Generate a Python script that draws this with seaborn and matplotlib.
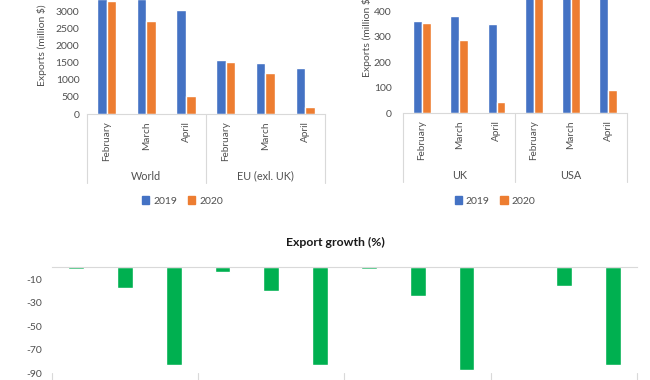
import pandas as pd
import matplotlib.pyplot as plt
import matplotlib.patches as mpatches
import seaborn as sns

months = ['February', 'March', 'April']
years = ['2019', '2020']

# top-left chart (million $)
left_regions = ['World', 'EU (exl. UK)']
world_2019 = [3365, 3360, 3040]
world_2020 = [3313, 2736, 518]
eu_2019 = [1593, 1505, 1339]
eu_2020 = [1524, 1202, 215]

# top-right chart (million $)
right_regions = ['UK', 'USA']
uk_2019 = [361, 382, 349]
uk_2020 = [354, 288, 44]
usa_2019 = [510, 570, 555]
usa_2020 = [511, 477, 91]

# bottom chart: export growth (%)
growth_regions = ['World', 'EU (exl. UK)', 'UK', 'USA']
growth = [-1.5, -18, -83, -3.8, -20, -83.5, -1.8, -24.5, -87.5, 0.2, -16.3, -83.5]

blue = '#4472C4'
orange = '#ED7D31'
green = '#00B050'
grey = '#505050'
line_c = '#D9D9D9'

sns.set_style('white')
plt.rcParams['font.family'] = ['Lato', 'DejaVu Sans']
plt.rcParams['font.size'] = 7.5

W, H = 650, 380
fig = plt.figure(figsize=(6.5, 3.8), dpi=100)


def fx(px):
    return px / W


def fy(py):
    return 1 - py / H


def make_df(regions, a2019, a2020):
    rows = []
    for i, reg in enumerate(regions):
        for j, m in enumerate(months):
            rows.append({'key': reg + '|' + m, 'year': '2019', 'val': a2019[i][j]})
            rows.append({'key': reg + '|' + m, 'year': '2020', 'val': a2020[i][j]})
    return pd.DataFrame(rows)


def top_chart(rect, df, ylim, ticks, regions, ylab_xy, legend_x, pad):
    ax = fig.add_axes(rect)
    sns.barplot(data=df, x='key', y='val', hue='year', palette={'2019': blue, '2020': orange},
                width=0.48, ax=ax, saturation=1)
    ax.get_legend().remove()
    ax.set_xlim(-0.5, 5.5)
    ax.set_ylim(0, ylim)
    ax.set_yticks(ticks)
    ax.set_yticklabels([str(t) for t in ticks], color=grey)
    ax.tick_params(axis='y', length=0, pad=pad, labelsize=7.5)
    ax.set_xticks([])
    ax.set_xlabel('')
    ax.set_ylabel('')
    for s in ['top', 'right', 'left']:
        ax.spines[s].set_visible(False)
    ax.spines['bottom'].set_color(line_c)
    ax.spines['bottom'].set_linewidth(0.8)
    tr = ax.get_xaxis_transform()
    hpx = rect[3] * H
    sep_y = -(183 - 114) / hpx
    for x in [-0.5, 2.5, 5.5]:
        ax.plot([x, x], [0, sep_y], transform=tr, color=line_c, lw=0.8, clip_on=False)
    for i in range(6):
        ax.text(i, -7 / hpx, months[i % 3], transform=tr, rotation=90,
                ha='center', va='top', color=grey, fontsize=7.2)
    for g, reg in enumerate(regions):
        ax.text(1 + 3 * g, -62 / hpx, reg, transform=tr, ha='center', va='center',
                color=grey, fontsize=7.8)
    fig.text(fx(ylab_xy[0]), fy(ylab_xy[1]), 'Exports (million $)', rotation=90,
             ha='center', va='bottom', color=grey, fontsize=7.5)
    patches = [mpatches.Patch(color=blue, label='2019'), mpatches.Patch(color=orange, label='2020')]
    fig.legend(handles=patches, loc='center', bbox_to_anchor=(fx(legend_x), fy(201)), ncol=2,
               frameon=False, handlelength=0.7, handleheight=0.7, handletextpad=0.4,
               columnspacing=1.0, fontsize=7.5, labelcolor=grey)
    return ax


df_left = make_df(left_regions, [world_2019, eu_2019], [world_2020, eu_2020])
top_chart([fx(86.7), fy(114), fx(325) - fx(86.7), 114 / H], df_left, 3343,
          [0, 500, 1000, 1500, 2000, 2500, 3000], left_regions, (41.7, 86), 182.5, 5.3)

df_right = make_df(right_regions, [uk_2019, usa_2019], [uk_2020, usa_2020])
top_chart([fx(403.3), fy(113.3), fx(627) - fx(403.3), 113.3 / H], df_right, 444.5,
          [0, 100, 200, 300, 400], right_regions, (366.7, 77), 495, 8.4)

# bottom chart
keys = [r + '|' + m for r in growth_regions for m in months]
df_g = pd.DataFrame({'key': keys, 'growth': growth})
ax3 = fig.add_axes([fx(51.7), 0, fx(637.3) - fx(51.7), (380 - 267.3) / H])
sns.barplot(data=df_g, x='key', y='growth', color=green, width=0.32, ax=ax3, saturation=1)
ax3.set_xlim(-0.5, 11.5)
ax3.set_ylim(-95.9, 0)
ax3.set_yticks([-10, -30, -50, -70, -90])
ax3.set_yticklabels(['-10', '-30', '-50', '-70', '-90'], color=grey)
ax3.tick_params(axis='y', length=0, pad=7, labelsize=7.5)
ax3.set_xticks([])
ax3.set_xlabel('')
ax3.set_ylabel('')
for s in ['bottom', 'right', 'left']:
    ax3.spines[s].set_visible(False)
ax3.spines['top'].set_color(line_c)
ax3.spines['top'].set_linewidth(0.8)
for x in [-0.5, 2.5, 5.5, 8.5, 11.5]:
    ax3.plot([x, x], [-90, -96], color=line_c, lw=0.8, clip_on=False)
fig.text(fx(335), fy(242.7), 'Export growth (%)', ha='center', va='center',
         fontsize=8.8, fontweight='bold', color='#1a1a1a')

plt.savefig('out.png', dpi=100)
